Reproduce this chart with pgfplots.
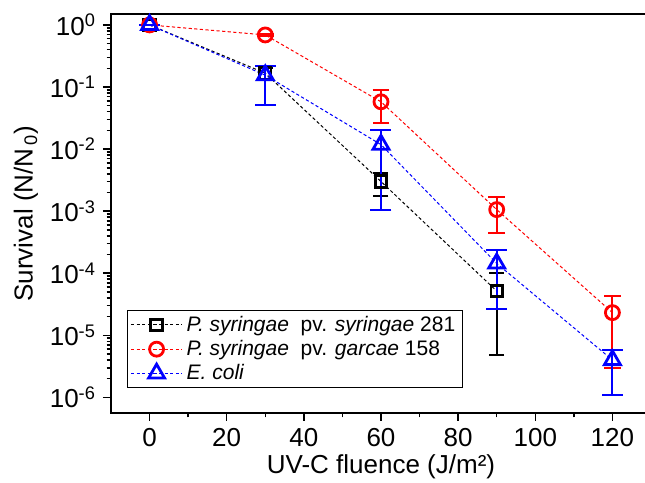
\documentclass[border=0pt]{standalone}
\usepackage{fontspec}
\setmainfont{Liberation Sans}
\usepackage{pgfplots}
\pgfplotsset{compat=1.18}
\usepackage{pgfplotstable}

% x  y  eplus  eminus
\pgfplotstableread{
x y ep em
0 1 0 0
30 0.167 0.034 0.037
60 0.0030 0.00118 0.00122
90 5.16e-5 4.74e-5 4.68e-5
}\tblack
\pgfplotstableread{
x y ep em
0 1 0 0
30 0.69 0.03 0.03
60 0.0578 0.0322 0.0312
90 1.06e-3 0.61e-3 0.623e-3
120 2.32e-5 1.96e-5 2.02e-5
}\tred
\pgfplotstableread{
x y ep em
0 1 0 0
30 0.155 0.064 0.1032
60 0.0118 0.0087 0.01077
90 1.44e-4 0.97e-4 1.171e-4
120 4.0e-6 1.8e-6 2.92e-6
}\tblue

\definecolor{pred}{RGB}{255,0,0}
\definecolor{pblue}{RGB}{0,0,255}

\begin{document}
\begin{tikzpicture}
\begin{axis}[
  scale only axis,
  width=270pt, height=199.5pt,
  xmin=-10, xmax=130,
  ymode=log, ymin=5.6e-7, ymax=1.5,
  xtick={0,20,...,120},
  minor xtick={10,30,...,130},
  ytick={1e-6,1e-5,1e-4,1e-3,1e-2,1e-1,1},
  yticklabels={10\textsuperscript{-6},10\textsuperscript{-5},10\textsuperscript{-4},10\textsuperscript{-3},10\textsuperscript{-2},10\textsuperscript{-1},10\textsuperscript{0}},
  /pgf/number format/assume math mode=true,
  tick pos=left, tick align=outside,
  major tick length=4pt, minor tick length=2.2pt,
  every tick/.style={black, line width=0.75pt},
  axis line style={line width=1pt},
  tick label style={font=\fontsize{13}{15}\selectfont},
  label style={font=\fontsize{13}{15}\selectfont},
  xlabel={UV-C fluence (J/m²)},
  ylabel={Survival (N/N\textsubscript{\,0})},
  xlabel style={yshift=3pt},
  ylabel style={yshift=-1pt},
  legend style={at={(rel axis cs:0.0296,0.0627)}, anchor=south west,
    font=\fontsize{10.5}{12}\selectfont, draw=black, line width=0.5pt,
    inner xsep=1.5pt, inner ysep=0.5pt, row sep=-1pt, cells={anchor=west}},
  legend image code/.code={%
    \draw[mark repeat=2,mark phase=2] plot coordinates {(0cm,0cm) (0.45cm,0cm) (0.9cm,0cm)};},
  error bars/error bar style={solid, line width=1pt},
  error bars/error mark options={solid, line width=1pt, rotate=90},
]
\coordinate (O) at (rel axis cs:0,0);
\addplot[black, line width=0.5pt, dash pattern=on 1.6pt off 1.2pt,
  mark=square, mark size=2.9pt, mark options={solid, line width=1.4pt},
  error bars/.cd, y dir=both, y explicit,
  error mark options={solid, line width=1pt, rotate=90, mark size=3.75pt}]
  table[x=x, y=y, y error plus=ep, y error minus=em] {\tblack};
\addlegendentry{\textit{P. syringae}\ \ pv. \textit{syringae}\ 281}
\addplot[pred, line width=0.5pt, dash pattern=on 1.6pt off 1.2pt,
  mark=o, mark size=3.5pt, mark options={solid, line width=1.4pt},
  error bars/.cd, y dir=both, y explicit,
  error mark options={solid, line width=1pt, rotate=90, mark size=4.2pt}]
  table[x=x, y=y, y error plus=ep, y error minus=em] {\tred};
\addlegendentry{\textit{P. syringae}\ \ pv. \textit{garcae}\ 158}
\addplot[pblue, line width=0.5pt, dash pattern=on 1.6pt off 1.2pt,
  mark=triangle, mark size=4.6pt, mark options={solid, line width=1.4pt},
  error bars/.cd, y dir=both, y explicit,
  error mark options={solid, line width=1pt, rotate=90, mark size=5.25pt}]
  table[x=x, y=y, y error plus=ep, y error minus=em] {\tblue};
\addlegendentry{\textit{E. coli}}
\end{axis}
\pgfresetboundingbox
\path[use as bounding box] ([shift={(-55.5pt,-35pt)}]O) rectangle ([shift={(267pt,206.5pt)}]O);
\end{tikzpicture}
\end{document}
